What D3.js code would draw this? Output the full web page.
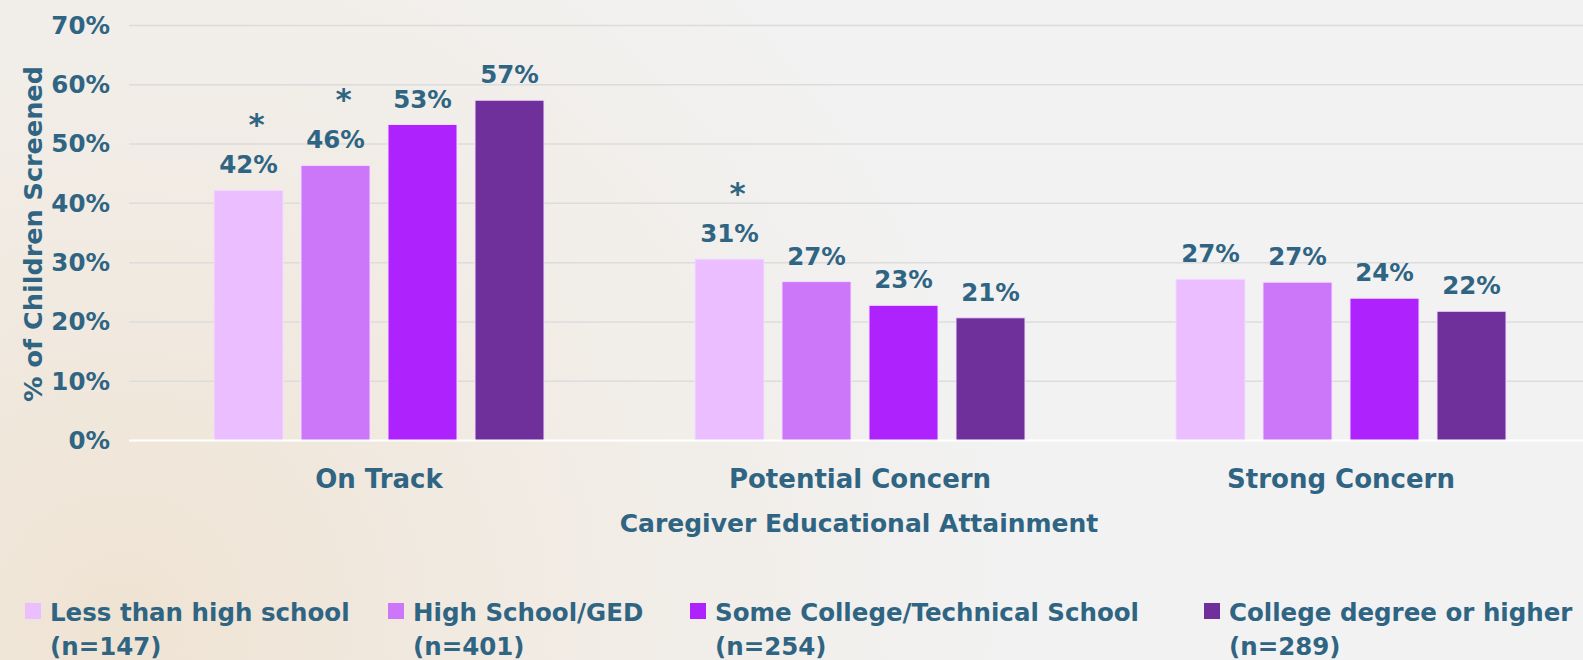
<!DOCTYPE html>
<html>
<head>
  <meta charset="utf-8">
  <title>Caregiver educational attainment</title>
  <script src="https://d3js.org/d3.v7.min.js"></script>
  <style>
    html, body { margin: 0; padding: 0; background: #f2f2f2; }
    svg { display: block; }
    text { font-family: "DejaVu Sans", sans-serif; font-weight: bold; fill: #2f6583; }
  </style>
</head>
<body>
  <svg id="chart" width="1583" height="660"></svg>
  <script>
    // values, in percent
    var categories = ['On Track', 'Potential Concern', 'Strong Concern'];
    var seriesNames = ['Less than high school', 'High School/GED', 'Some College/Technical School', 'College degree or higher'];
    var seriesN = ['(n=147)', '(n=401)', '(n=254)', '(n=289)'];
    var colors = ['#ebbeff', '#cc77f9', '#ae22fd', '#70309c'];
    var lessThanHS = [42.2, 30.6, 27.2];
    var highSchool = [46.4, 26.8, 26.7];
    var someCollege = [53.3, 22.8, 24.0];
    var collegeDeg = [57.4, 20.7, 21.8];
    // starred = significant difference
    var starLessThanHS = [true, true, false];
    var starHighSchool = [true, false, false];
    var starSomeCollege = [false, false, false];
    var starCollegeDeg = [false, false, false];
    var yTicks = [0, 10, 20, 30, 40, 50, 60, 70];

    var series = [lessThanHS, highSchool, someCollege, collegeDeg];
    var stars = [starLessThanHS, starHighSchool, starSomeCollege, starCollegeDeg];

    var W = 1583, H = 660,
        plotLeft = 138.5, plotRight = 1581.5, plotTop = 25.5, plotBottom = 440.5;

    var svg = d3.select('#chart');

    // soft warm glow in the lower left
    var defs = svg.append('defs');
    var grad = defs.append('radialGradient')
        .attr('id', 'glow')
        .attr('gradientUnits', 'userSpaceOnUse')
        .attr('cx', 120).attr('cy', 620).attr('r', 900);
    grad.append('stop').attr('offset', '0%').attr('stop-color', '#efe3d3');
    grad.append('stop').attr('offset', '45%').attr('stop-color', '#f1ebe3');
    grad.append('stop').attr('offset', '100%').attr('stop-color', '#f2f2f2');
    svg.append('rect').attr('width', W).attr('height', H).attr('fill', 'url(#glow)');

    var x0 = d3.scaleBand()
        .domain(categories)
        .range([plotLeft, plotRight])
        .paddingInner(0.2765)
        .paddingOuter(0.13825);

    var x1 = d3.scaleBand()
        .domain(d3.range(series.length))
        .range([0, x0.bandwidth()])
        .paddingInner(0.207)
        .paddingOuter(0.1035);

    var y = d3.scaleLinear().domain([0, 70]).range([plotBottom, plotTop]);

    // gridlines
    svg.append('g')
      .selectAll('line')
      .data(yTicks.filter(function(d) { return d > 0; }))
      .enter().append('line')
        .attr('x1', 129).attr('x2', W)
        .attr('y1', function(d) { return y(d); })
        .attr('y2', function(d) { return y(d); })
        .attr('stroke', '#dcdcdc')
        .attr('stroke-width', 1.5);

    // y axis labels
    var yAxis = d3.axisLeft(y)
        .tickValues(yTicks)
        .tickFormat(function(d) { return d + '%'; })
        .tickSize(0)
        .tickPadding(0);
    var gy = svg.append('g')
        .attr('transform', 'translate(110,0)')
        .call(yAxis);
    gy.select('.domain').remove();
    gy.selectAll('text')
        .attr('font-size', 24.5)
        .attr('font-family', null)
        .attr('fill', null);

    // bars
    var groups = svg.append('g')
      .selectAll('g')
      .data(categories)
      .enter().append('g')
        .attr('transform', function(d) { return 'translate(' + x0(d) + ',0)'; });

    function cells(d, ci) {
      return series.map(function(s, si) { return {si: si, v: s[ci], star: stars[si][ci]}; });
    }

    groups.selectAll('rect')
      .data(cells)
      .enter().append('rect')
        .attr('x', function(d) { return x1(d.si); })
        .attr('y', function(d) { return y(d.v); })
        .attr('width', x1.bandwidth())
        .attr('height', function(d) { return y(0) - y(d.v); })
        .attr('fill', function(d) { return colors[d.si]; })
        .attr('stroke', '#f4dcff')
        .attr('stroke-width', 1);

    groups.selectAll('text.value')
      .data(cells)
      .enter().append('text')
        .attr('class', 'value')
        .attr('x', function(d) { return x1(d.si) + x1.bandwidth() / 2; })
        .attr('y', function(d) { return y(d.v) - 17; })
        .attr('text-anchor', 'middle')
        .attr('font-size', 24.5)
        .text(function(d) { return Math.round(d.v) + '%'; });

    groups.selectAll('text.star')
      .data(function(d, ci) { return cells(d, ci).filter(function(c) { return c.star; }); })
      .enter().append('text')
        .attr('class', 'star')
        .attr('x', function(d) { return x1(d.si) + x1.bandwidth() / 2 + 8; })
        .attr('y', function(d) { return y(d.v) - 55; })
        .attr('text-anchor', 'middle')
        .attr('font-size', 31)
        .attr('font-weight', 'normal')
        .text('*');

    // zero line
    svg.append('line')
        .attr('x1', 129).attr('x2', W)
        .attr('y1', y(0)).attr('y2', y(0))
        .attr('stroke', '#ffffff')
        .attr('stroke-width', 2);

    // category labels
    var xAxis = d3.axisBottom(x0).tickSize(0).tickPadding(0);
    var gx = svg.append('g')
        .attr('transform', 'translate(0,' + 488 + ')')
        .call(xAxis);
    gx.select('.domain').remove();
    gx.selectAll('text')
        .attr('dy', 0)
        .attr('font-size', 26)
        .attr('font-family', null)
        .attr('fill', null);

    svg.append('text')
        .attr('x', 859).attr('y', 532)
        .attr('text-anchor', 'middle')
        .attr('font-size', 25)
        .text('Caregiver Educational Attainment');

    svg.append('text')
        .attr('transform', 'translate(42,234) rotate(-90)')
        .attr('text-anchor', 'middle')
        .attr('font-size', 25.5)
        .text('% of Children Screened');

    // legend
    var legendX = [25, 388, 690, 1204];
    var legend = svg.append('g')
      .selectAll('g')
      .data(seriesNames)
      .enter().append('g')
        .attr('transform', function(d, i) { return 'translate(' + legendX[i] + ',0)'; });

    legend.append('rect')
        .attr('x', 0).attr('y', 603)
        .attr('width', 16).attr('height', 16)
        .attr('fill', function(d, i) { return colors[i]; });

    legend.append('text')
        .attr('x', 25).attr('y', 621)
        .attr('font-size', 24.5)
        .text(function(d) { return d; });

    legend.append('text')
        .attr('x', 25).attr('y', 655)
        .attr('font-size', 24.5)
        .text(function(d, i) { return seriesN[i]; });
  </script>
</body>
</html>
